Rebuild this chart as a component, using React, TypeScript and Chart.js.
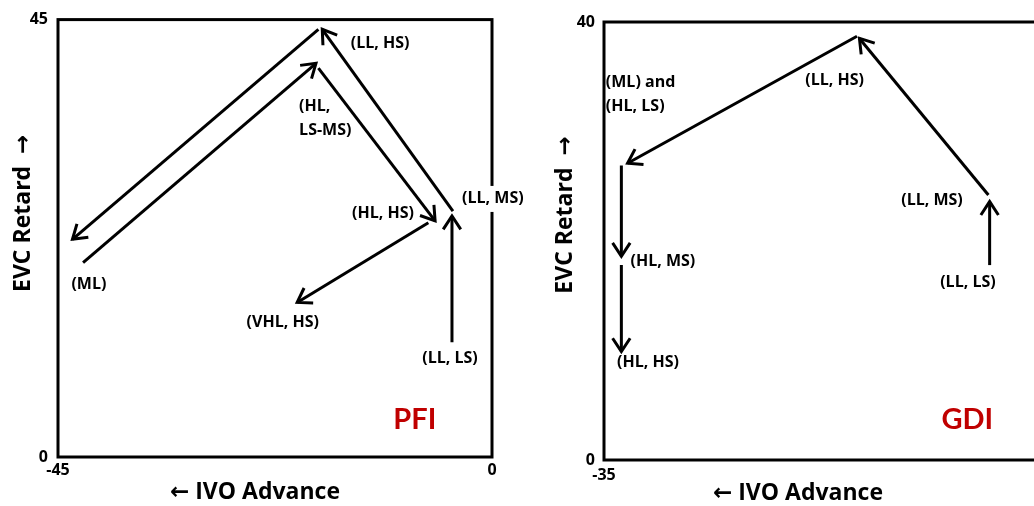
import React, { useEffect, useRef } from "react";
import { Chart, registerables } from "chart.js";

Chart.register(...registerables);

const FONT = '"Open Sans", "DejaVu Sans", sans-serif';
const TAG_FONT = 'Lato, "DejaVu Sans", sans-serif';

// ---- PFI panel: transition arrows (from -> to) in IVO / EVC degrees ----
const pfiFromX = [-42.4, -18.0, -6.6, -4.15, -4.05, -18.0];
const pfiFromY = [20.0, 40.0, 24.1, 11.8, 25.3, 44.0];
const pfiToX = [-18.25, -5.9, -20.2, -4.15, -17.6, -43.5];
const pfiToY = [40.5, 24.3, 15.9, 24.8, 44.0, 22.4];

const pfiLabelText = [["(LL, HS)"], ["(HL,", "LS-MS)"], ["(LL, MS)"], ["(HL, HS)"], ["(ML)"], ["(VHL, HS)"], ["(LL, LS)"]];
const pfiLabelX = [-11.6, -20.0, -3.1, -11.3, -41.8, -21.7, -4.35];
const pfiLabelY = [42.5, 36.1, 26.55, 25.1, 17.8, 13.8, 10.15];

// ---- GDI panel ----
const gdiFromX = [-3.9, -4.0, -14.6, -33.6, -33.6];
const gdiFromY = [17.8, 24.2, 38.7, 26.9, 17.8];
const gdiToX = [-3.9, -14.4, -33.1, -33.6, -33.6];
const gdiToY = [23.6, 38.5, 27.1, 18.6, 9.9];

const gdiLabelText = [["(ML) and", "(HL, LS)"], ["(LL, HS)"], ["(LL, MS)"], ["(HL, MS)"], ["(LL, LS)"], ["(HL, HS)"]];
const gdiLabelX = [-34.85, -16.4, -8.55, -30.25, -5.65, -31.45];
const gdiLabelY = [34.5, 34.7, 23.75, 18.1, 16.25, 8.95];

type PanelCfg = {
  fromX: number[]; fromY: number[]; toX: number[]; toY: number[];
  labelText: string[][]; labelX: number[]; labelY: number[];
  labelAlign: CanvasTextAlign[]; labelBg: boolean[];
  tag: string; tagX: number; tagY: number;
  xMin: number; xMax: number; yMin: number; yMax: number;
  width: number; padTop: number; padRight: number; yAxisW: number; xAxisH: number;
  yTickPad: number; xTickPad: number;
  yTitleDx: number; yTitleDy: number; xTitleDx: number; xTitleDy: number;
};

const pfiCfg: PanelCfg = {
  fromX: pfiFromX, fromY: pfiFromY, toX: pfiToX, toY: pfiToY,
  labelText: pfiLabelText, labelX: pfiLabelX, labelY: pfiLabelY,
  labelAlign: ["center", "left", "left", "center", "center", "center", "center"],
  labelBg: [false, false, true, false, false, false, false],
  tag: "PFI", tagX: -8.0, tagY: 3.8,
  xMin: -45, xMax: 0, yMin: 0, yMax: 45,
  width: 540, padTop: 18, padRight: 48, yAxisW: 58, xAxisH: 49,
  yTickPad: 10, xTickPad: 4,
  yTitleDx: -35, yTitleDy: -25, xTitleDx: -20, xTitleDy: 35,
};

const gdiCfg: PanelCfg = {
  fromX: gdiFromX, fromY: gdiFromY, toX: gdiToX, toY: gdiToY,
  labelText: gdiLabelText, labelX: gdiLabelX, labelY: gdiLabelY,
  labelAlign: ["left", "center", "center", "center", "center", "center"],
  labelBg: [false, false, false, false, false, false],
  tag: "GDI", tagX: -5.7, tagY: 3.65,
  xMin: -35, xMax: 0, yMin: 0, yMax: 40,
  width: 530, padTop: 22, padRight: 12, yAxisW: 84, xAxisH: 46,
  yTickPad: 9, xTickPad: 6,
  yTitleDx: -39, yTitleDy: -26, xTitleDx: -23, xTitleDy: 33,
};

function makePlugin(cfg: PanelCfg) {
  return {
    id: "panelDecor",
    beforeDatasetsDraw(chart: any) {
      const { ctx, chartArea: a } = chart;
      ctx.save();
      ctx.strokeStyle = "#000";
      ctx.lineWidth = 3;
      ctx.strokeRect(a.left, a.top, a.right - a.left, a.bottom - a.top);
      ctx.restore();
    },
    afterDatasetsDraw(chart: any) {
      const { ctx, chartArea: a, scales } = chart;
      const xs = scales.x;
      const ys = scales.y;
      ctx.save();
      // arrowheads at the end of each segment
      chart.data.datasets.forEach((_: any, i: number) => {
        const meta = chart.getDatasetMeta(i);
        const p0 = meta.data[0];
        const p1 = meta.data[1];
        const ang = Math.atan2(p1.y - p0.y, p1.x - p0.x);
        const len = 16;
        const spread = 0.58;
        ctx.strokeStyle = "#000";
        ctx.lineWidth = 3;
        ctx.lineCap = "butt";
        ctx.lineJoin = "miter";
        ctx.beginPath();
        ctx.moveTo(p1.x - len * Math.cos(ang - spread), p1.y - len * Math.sin(ang - spread));
        ctx.lineTo(p1.x, p1.y);
        ctx.lineTo(p1.x - len * Math.cos(ang + spread), p1.y - len * Math.sin(ang + spread));
        ctx.stroke();
      });

      // state labels
      ctx.font = `bold 16px ${FONT}`;
      ctx.textBaseline = "middle";
      cfg.labelText.forEach((lines, i) => {
        const px = xs.getPixelForValue(cfg.labelX[i]);
        const py = ys.getPixelForValue(cfg.labelY[i]);
        const align = cfg.labelAlign[i];
        ctx.textAlign = align;
        lines.forEach((line, k) => {
          const ly = py + k * 24;
          if (cfg.labelBg[i]) {
            const w = ctx.measureText(line).width;
            const x0 = align === "left" ? px : px - w / 2;
            ctx.fillStyle = "#fff";
            ctx.fillRect(x0 - 2, ly - 13, w + 4, 26);
          }
          ctx.fillStyle = "#000";
          ctx.fillText(line, px, ly);
        });
      });

      // panel tag
      ctx.font = `bold 29px ${TAG_FONT}`;
      ctx.fillStyle = "#C00000";
      ctx.textAlign = "center";
      ctx.fillText(cfg.tag, xs.getPixelForValue(cfg.tagX), ys.getPixelForValue(cfg.tagY));

      // axis titles
      ctx.fillStyle = "#000";
      ctx.font = `bold 23px ${FONT}`;
      ctx.fillText("\u2190 IVO Advance", (a.left + a.right) / 2 + cfg.xTitleDx, a.bottom + cfg.xTitleDy);
      ctx.save();
      ctx.translate(a.left + cfg.yTitleDx, (a.top + a.bottom) / 2 + cfg.yTitleDy);
      ctx.rotate(-Math.PI / 2);
      ctx.fillText("EVC Retard  \u2192", 0, 0);
      ctx.restore();
      ctx.restore();
    },
  };
}

function Panel({ cfg, left }: { cfg: PanelCfg; left: number }) {
  const ref = useRef<HTMLCanvasElement | null>(null);
  useEffect(() => {
    if (!ref.current) return;
    const datasets = cfg.fromX.map((_, i) => ({
      data: [
        { x: cfg.fromX[i], y: cfg.fromY[i] },
        { x: cfg.toX[i], y: cfg.toY[i] },
      ],
      showLine: true,
      borderColor: "#000",
      borderWidth: 3,
      pointRadius: 0,
      pointHoverRadius: 0,
      borderCapStyle: "butt" as const,
    }));
    const tickFont = { family: FONT, size: 16, weight: "bold" as const };
    const chart = new Chart(ref.current, {
      type: "scatter",
      data: { datasets },
      options: {
        responsive: false,
        animation: false,
        devicePixelRatio: 1,
        layout: { padding: { top: cfg.padTop, right: cfg.padRight, left: 0, bottom: 0 } },
        plugins: { legend: { display: false }, tooltip: { enabled: false } },
        scales: {
          x: {
            type: "linear",
            min: cfg.xMin,
            max: cfg.xMax,
            grid: { display: false, drawTicks: false },
            border: { display: false },
            ticks: { font: tickFont, color: "#000", padding: cfg.xTickPad, maxRotation: 0 },
            afterBuildTicks: (s: any) => { s.ticks = [{ value: cfg.xMin }, { value: cfg.xMax }]; },
            afterFit: (s: any) => { s.height = cfg.xAxisH; },
          },
          y: {
            type: "linear",
            min: cfg.yMin,
            max: cfg.yMax,
            grid: { display: false, drawTicks: false },
            border: { display: false },
            ticks: { font: tickFont, color: "#000", padding: cfg.yTickPad },
            afterBuildTicks: (s: any) => { s.ticks = [{ value: cfg.yMin }, { value: cfg.yMax }]; },
            afterFit: (s: any) => { s.width = cfg.yAxisW; },
          },
        },
      },
      plugins: [makePlugin(cfg)],
    });
    return () => chart.destroy();
  }, [cfg]);
  return (
    <canvas
      ref={ref}
      width={cfg.width}
      height={506}
      style={{ position: "absolute", left, top: 0, width: cfg.width, height: 506 }}
    />
  );
}

export default function App() {
  return (
    <div
      style={{
        position: "fixed",
        left: 0,
        top: 0,
        width: 1034,
        height: 506,
        overflow: "hidden",
        background: "#fff",
      }}
    >
      <Panel cfg={pfiCfg} left={0} />
      <Panel cfg={gdiCfg} left={520} />
    </div>
  );
}
